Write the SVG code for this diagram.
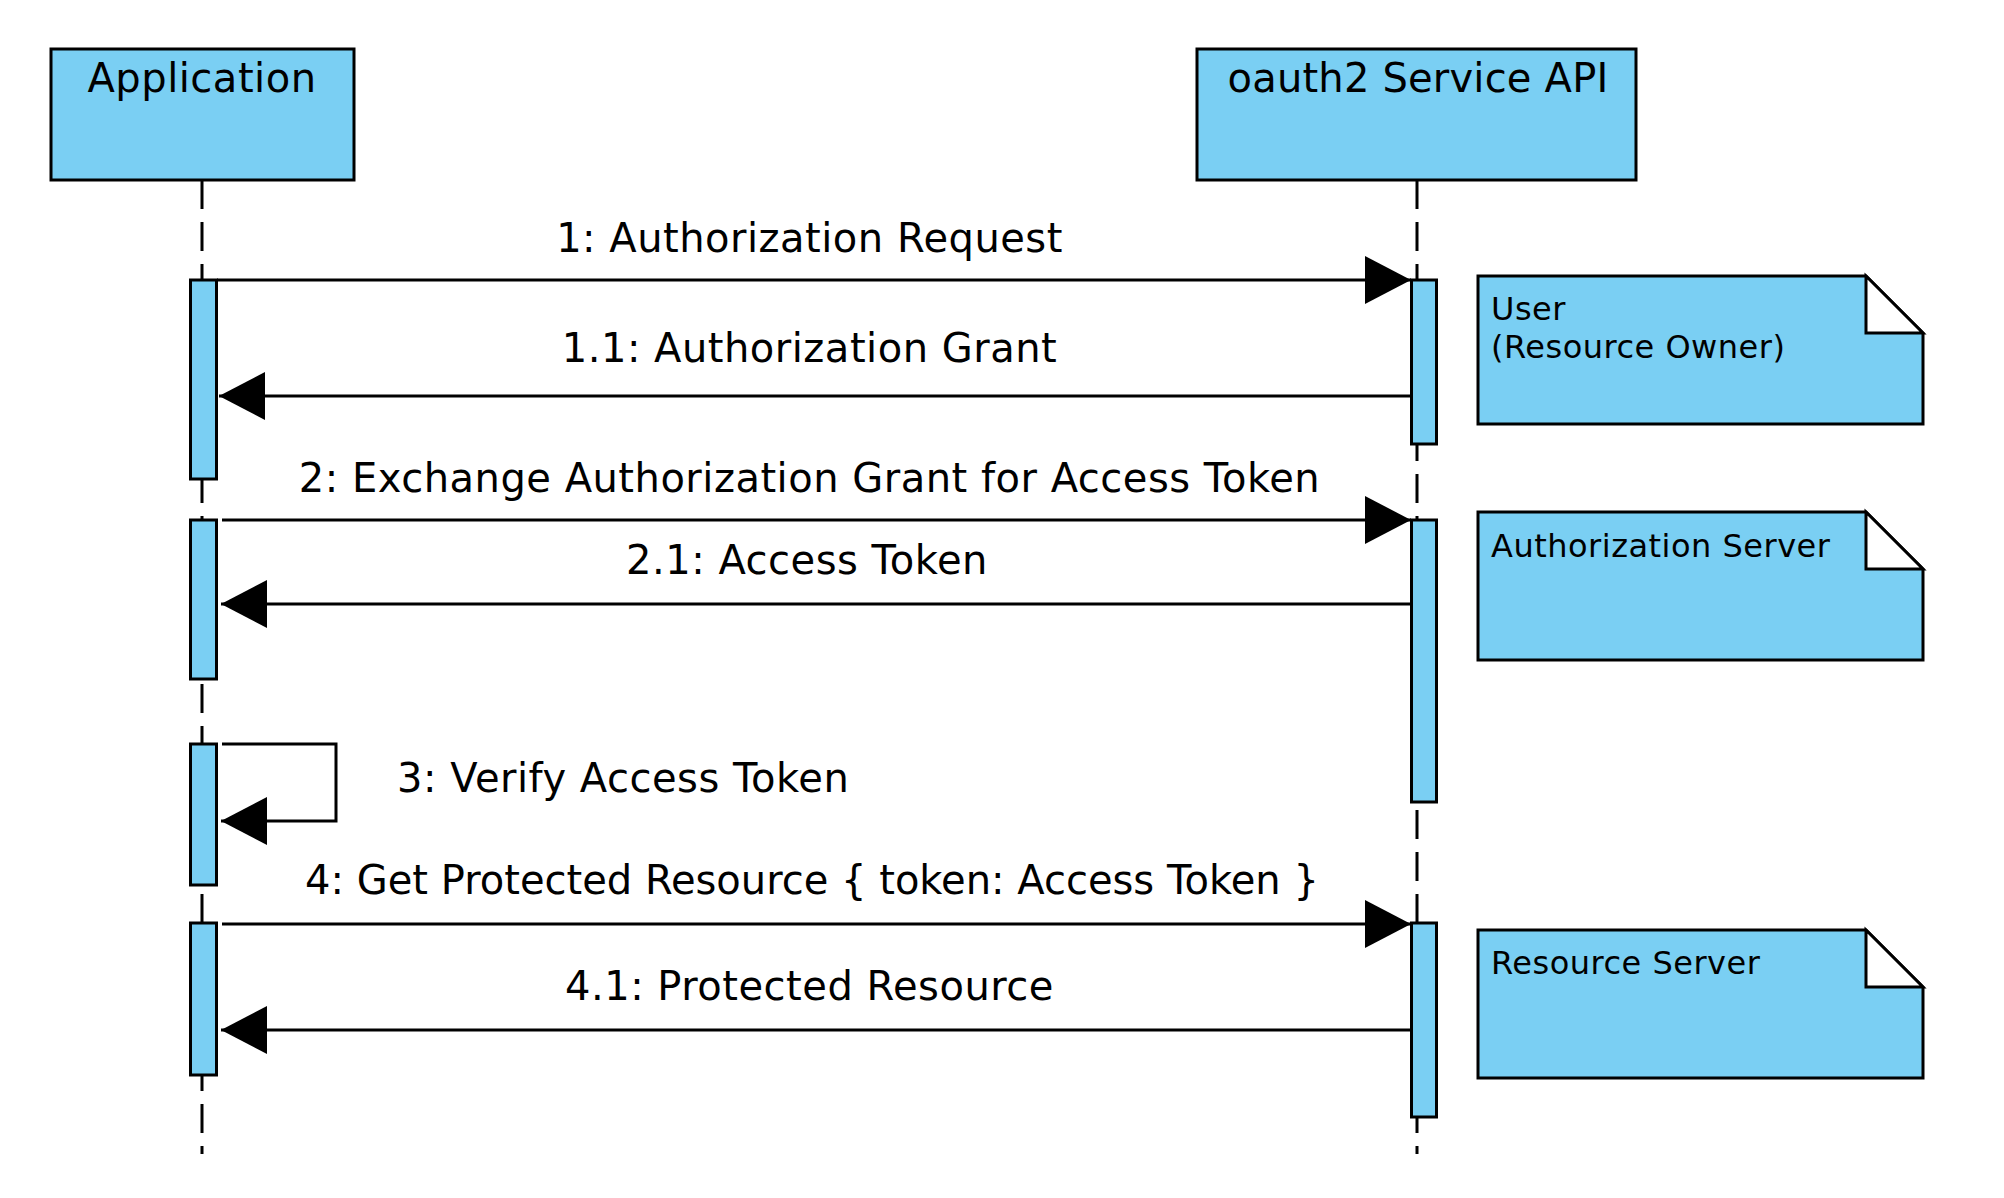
<svg xmlns="http://www.w3.org/2000/svg" width="2004" height="1198" viewBox="0 0 2004 1198">
<style>
.box{fill:#7acff3;stroke:#000;stroke-width:3}
.fold{fill:#fff;stroke:#000;stroke-width:3;stroke-linejoin:miter}
.life{stroke:#000;stroke-width:3;stroke-dasharray:29 13;fill:none}
.msg{stroke:#000;stroke-width:3;fill:none}
.t{font-family:"DejaVu Sans","Liberation Sans",sans-serif;fill:#000;letter-spacing:0.5px}
.title{font-size:40px;text-anchor:middle}
.lbl{font-size:40px;text-anchor:middle}
.note{font-size:32px}
</style>
<defs>
<marker id="ah" markerUnits="userSpaceOnUse" markerWidth="46" markerHeight="48" refX="46" refY="24" orient="auto" viewBox="0 0 46 48">
<path d="M0,0 L46,24 L0,48 Z" fill="#000"/>
</marker>
</defs>
<rect width="2004" height="1198" fill="#fff"/>
<g id="lifelines">
<line class="life" x1="202" y1="180" x2="202" y2="1154"/>
<line class="life" x1="1417" y1="180" x2="1417" y2="1154"/>
</g>
<g id="app">
<rect class="box" x="51" y="49" width="303" height="131"/>
<text class="t title" x="202" y="92">Application</text>
</g>
<g id="api">
<rect class="box" x="1197" y="49" width="439" height="131"/>
<text class="t title" x="1418" y="92" style="letter-spacing:0.2px">oauth2 Service API</text>
</g>
<g id="activations">
<rect class="box" x="190.5" y="280" width="26" height="199"/>
<rect class="box" x="190.5" y="520" width="26" height="159"/>
<rect class="box" x="190.5" y="744" width="26" height="141"/>
<rect class="box" x="190.5" y="923" width="26" height="152"/>
<rect class="box" x="1411.5" y="280" width="25" height="164"/>
<rect class="box" x="1411.5" y="520" width="25" height="282"/>
<rect class="box" x="1411.5" y="923" width="25" height="194"/>
</g>
<g id="note-user">
<path class="box" d="M1478,276 H1866 L1923,333 V424 H1478 Z"/>
<path class="fold" d="M1866,276 V333 H1923 Z"/>
<text class="t note" x="1491" y="320">User</text>
<text class="t note" x="1491" y="358">(Resource Owner)</text>
</g>
<g id="note-auth">
<path class="box" d="M1478,512 H1866 L1923,569 V660 H1478 Z"/>
<path class="fold" d="M1866,512 V569 H1923 Z"/>
<text class="t note" x="1491" y="557">Authorization Server</text>
</g>
<g id="note-res">
<path class="box" d="M1478,930 H1866 L1923,987 V1078 H1478 Z"/>
<path class="fold" d="M1866,930 V987 H1923 Z"/>
<text class="t note" x="1491" y="974">Resource Server</text>
</g>
<g id="connectors">
<line class="msg" x1="217" y1="280" x2="1411" y2="280" marker-end="url(#ah)"/>
<line class="msg" x1="1410" y1="396" x2="219" y2="396" marker-end="url(#ah)"/>
<line class="msg" x1="222" y1="520" x2="1411" y2="520" marker-end="url(#ah)"/>
<line class="msg" x1="1410" y1="604" x2="221" y2="604" marker-end="url(#ah)"/>
<path class="msg" d="M222,744 H336 V821 H221" marker-end="url(#ah)"/>
<line class="msg" x1="222" y1="924" x2="1411" y2="924" marker-end="url(#ah)"/>
<line class="msg" x1="1410" y1="1030" x2="221" y2="1030" marker-end="url(#ah)"/>
</g>
<g id="labels">
<text class="t lbl" x="809.5" y="252">1: Authorization Request</text>
<text class="t lbl" x="809.5" y="362">1.1: Authorization Grant</text>
<text class="t lbl" x="809.5" y="492">2: Exchange Authorization Grant for Access Token</text>
<text class="t lbl" x="807" y="574">2.1: Access Token</text>
<text class="t" font-size="40" x="397" y="792">3: Verify Access Token</text>
<text class="t lbl" x="812" y="894" style="letter-spacing:0px">4: Get Protected Resource { token: Access Token }</text>
<text class="t lbl" x="809.5" y="1000">4.1: Protected Resource</text>
</g>
</svg>
